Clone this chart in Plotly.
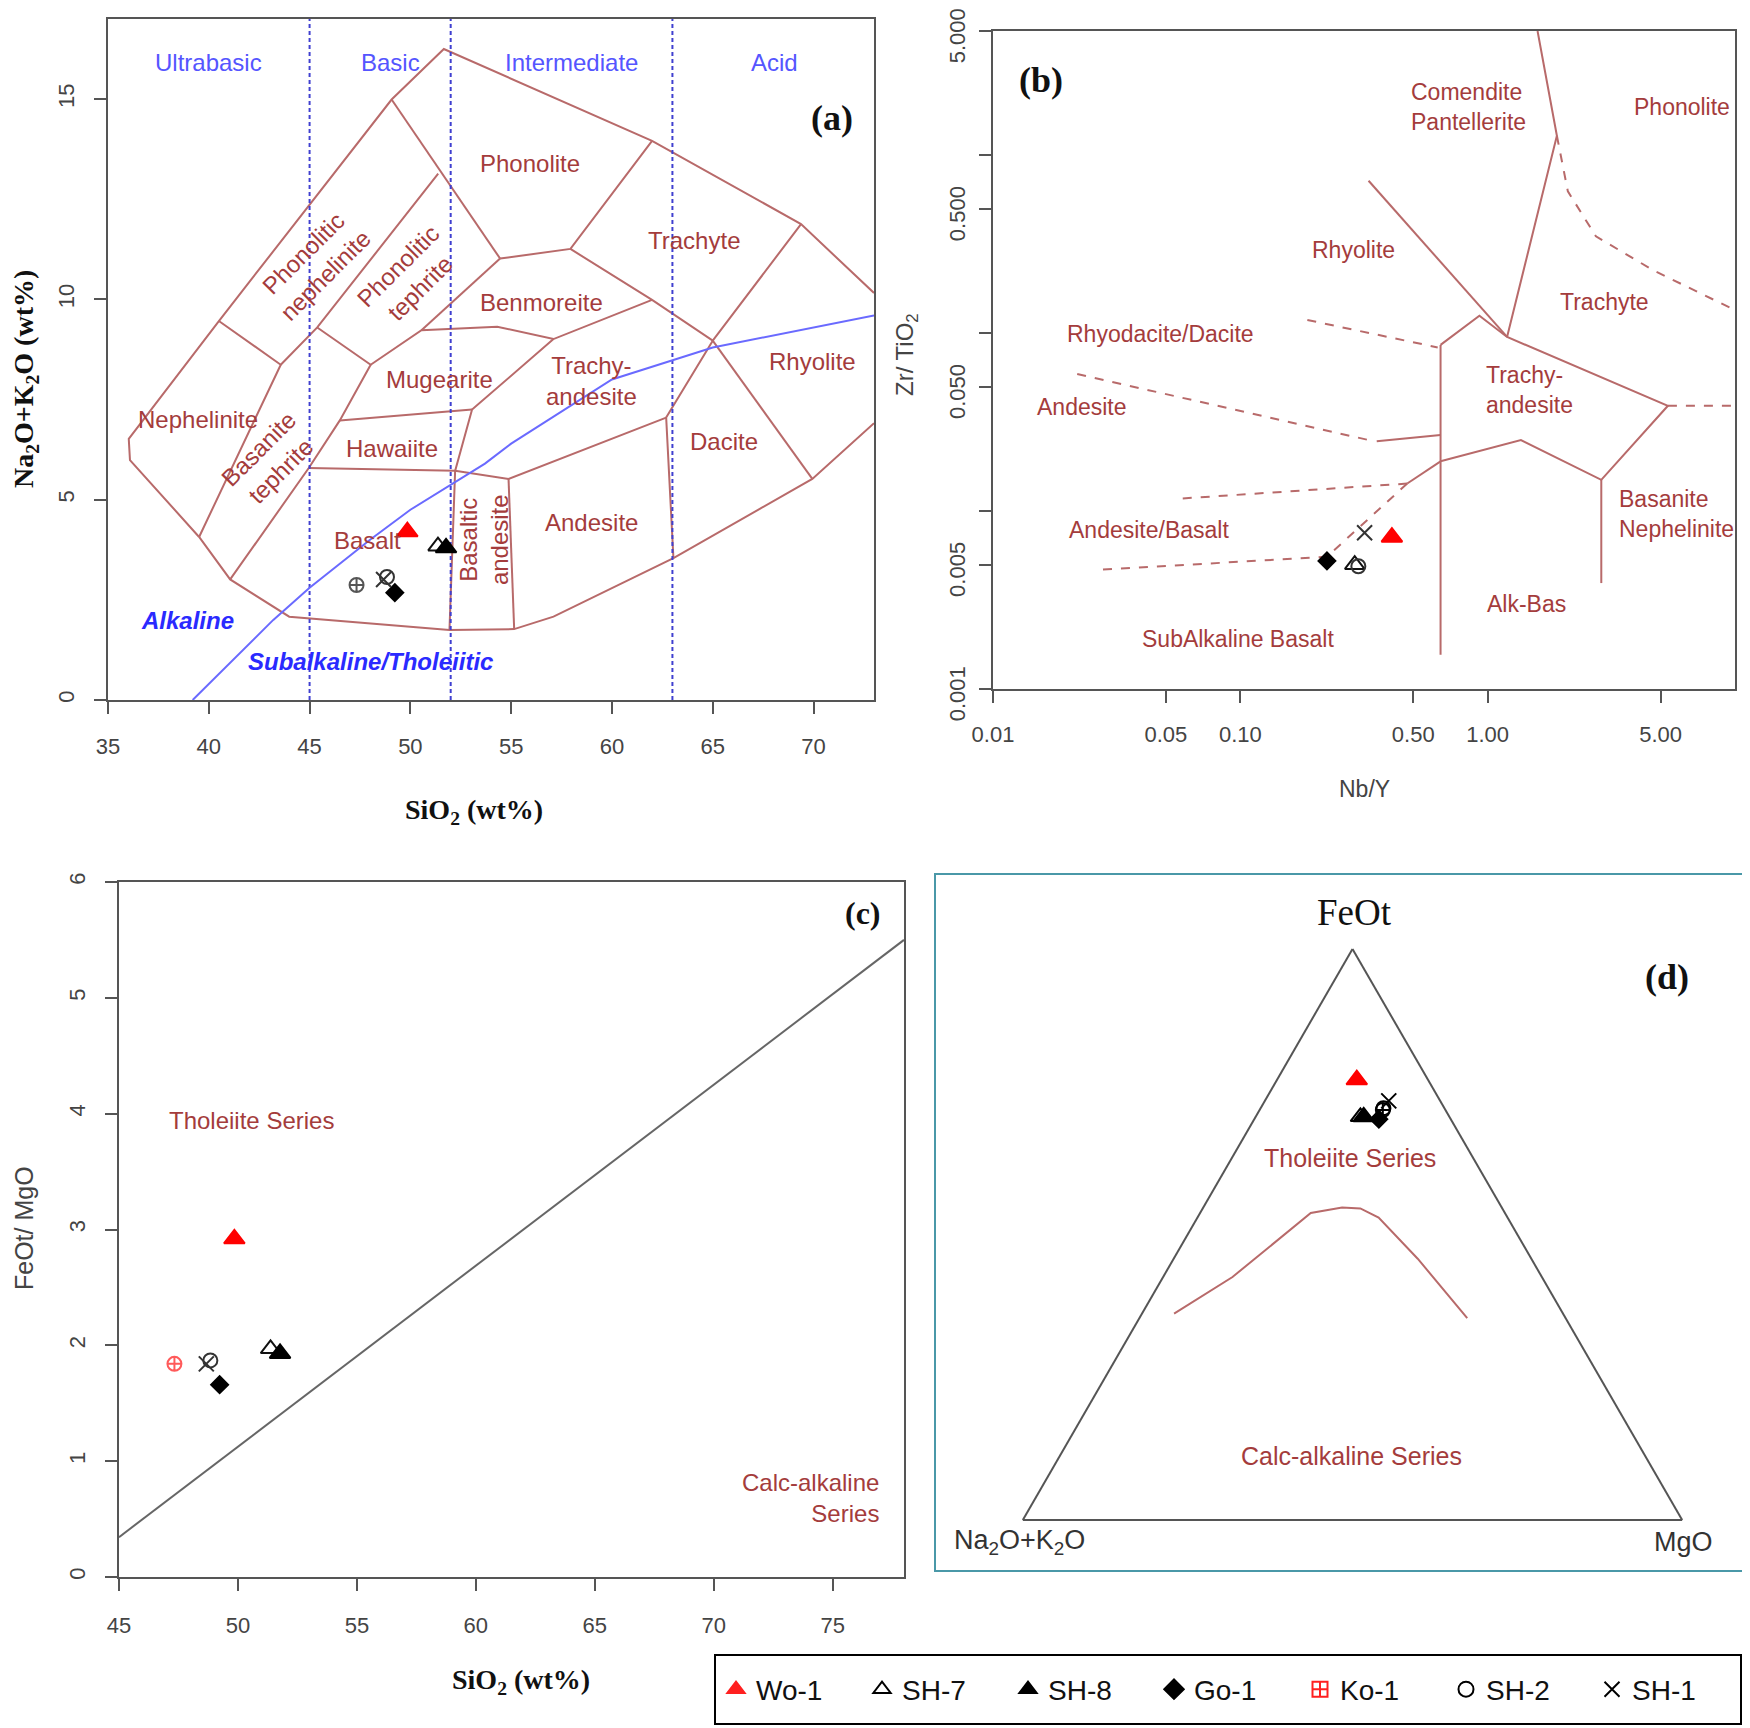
import numpy as np
import plotly.graph_objects as go

# page body has an 8px margin, so the figure is drawn 8px in from the top-left corner
OFF = 8
W, H = 1750 - OFF, 1728 - OFF

# ---------------- sample data ----------------
samples = ["Wo-1", "SH-7", "SH-8", "Go-1", "Ko-1", "SH-2", "SH-1"]
sio2 = [49.85, 51.37, 51.77, 49.23, 47.33, 48.84, 48.67]
alkali = [4.20, 3.84, 3.80, 2.68, 2.87, 3.07, 3.01]
feot_mgo = [2.92, 1.97, 1.93, 1.66, 1.84, 1.87, 1.84]
nb_y = [0.41, 0.29, None, 0.224, None, 0.30, 0.318]
zr_tio2 = [0.00714, 0.0050, None, 0.00525, None, 0.0049, 0.00755]
tern_feot = [0.771, 0.706, 0.706, 0.702, 0.718, 0.722, 0.734]
tern_alk = [0.108, 0.135, 0.130, 0.109, 0.095, 0.0925, 0.078]
tern_mgo = [0.121, 0.159, 0.164, 0.189, 0.187, 0.1865, 0.188]

# ---------------- (a) TAS boundaries ----------------
tas_lines = [
    ([39.52, 36.09, 36.03, 40.50, 49.07, 51.66, 61.99, 69.38, 73.0],
     [4.07, 5.99, 6.52, 9.46, 14.99, 16.25, 13.96, 11.88, 10.16]),
    ([73.0, 69.94, 63.05, 57.10, 55.15, 51.94, 43.99, 41.06, 39.52],
     [6.91, 5.52, 3.54, 2.08, 1.77, 1.75, 2.08, 3.01, 4.07]),
    ([40.50, 43.57, 39.52], [9.46, 8.37, 4.07]),
    ([43.57, 45.38, 51.38], [8.37, 9.30, 13.14]),
    ([49.07, 54.45], [14.99, 11.02]),
    ([45.38, 48.03, 46.50, 44.96, 41.06], [9.30, 8.37, 6.98, 5.79, 3.01]),
    ([48.03, 50.55, 54.31, 57.10, 61.99], [8.37, 9.23, 9.32, 9.01, 9.99]),
    ([54.45, 50.55], [11.02, 9.23]),
    ([54.45, 57.94, 61.99], [11.02, 11.26, 13.96]),
    ([57.94, 61.99, 65.0, 69.38], [11.26, 9.99, 8.97, 11.88]),
    ([65.0, 69.94], [8.97, 5.52]),
    ([65.0, 62.69, 63.05], [8.97, 7.05, 3.54]),
    ([57.10, 53.06, 52.22, 51.94], [9.01, 7.25, 5.72, 1.75]),
    ([46.50, 53.06], [6.98, 7.25]),
    ([44.96, 52.22, 54.87, 62.69], [5.79, 5.72, 5.52, 7.05]),
    ([54.87, 55.15], [5.52, 1.77]),
]
alk_line_x = [39.2, 40, 43.2, 45, 48, 50, 53.7, 55, 60, 65, 73]
alk_line_y = [0, 0.4, 2, 2.8, 4, 4.75, 5.9, 6.4, 8.0, 8.8, 9.6]
silica_div = [45, 52, 63]

tas_labels = ["Phonolite", "Trachyte", "Phonolitic<br>nephelinite", "Phonolitic<br>tephrite",
              "Benmoreite", "Mugearite", "Trachy-<br>andesite", "Rhyolite", "Nephelinite",
              "Basanite<br>tephrite", "Hawaiite", "Dacite", "Andesite", "Basalt",
              "Basaltic<br>andesite"]
tas_lab_x = [55.93, 64.08, 45.24, 49.93, 56.49, 51.44, 58.97, 69.94, 39.44, 43.01,
             49.07, 65.56, 58.97, 47.89, 53.62]
tas_lab_y = [13.40, 11.48, 10.89, 10.56, 9.93, 8.0, 7.97, 8.46, 7.0, 5.99, 6.28,
             6.45, 4.44, 3.97, 4.0]
tas_lab_angle = [0, 0, -45, -45, 0, 0, 0, 0, 0, -45, 0, 0, 0, 0, -90]
class_labels = ["Ultrabasic", "Basic", "Intermediate", "Acid"]
class_x = [40.0, 49.0, 58.0, 68.07]
class_y = 15.92

# ---------------- (b) Winchester & Floyd boundaries ----------------
wf_solid = [
    ([0.645, 0.645], [0.0860, 0.00156]),
    ([0.645, 0.926, 1.198, 5.355, 2.88, 1.363, 0.645],
     [0.0860, 0.1254, 0.0953, 0.0391, 0.01498, 0.02506, 0.01905]),
    ([0.330, 1.198], [0.720, 0.0953]),
    ([1.198, 1.905, 1.591], [0.0953, 1.288, 5.0]),
    ([2.88, 2.88], [0.01498, 0.00394]),
    ([0.356, 0.645], [0.0247, 0.0268]),
    ([0.645, 0.473], [0.01905, 0.01429]),
]
wf_dashed = [
    ([1.905, 2.11, 2.74, 4.71, 10.0], [1.288, 0.627, 0.3504, 0.2244, 0.135]),
    ([5.355, 10.0], [0.0391, 0.0391]),
    ([0.0219, 0.330], [0.0590, 0.0251]),
    ([0.1866, 0.628], [0.1187, 0.0832]),
    ([0.0585, 0.473], [0.01178, 0.01429]),
    ([0.473, 0.224, 0.0269], [0.01429, 0.00554, 0.00468]),
]
wf_labels = ["Comendite<br>Pantellerite", "Phonolite", "Rhyolite", "Trachyte",
             "Rhyodacite/Dacite", "Trachy-<br>andesite", "Andesite",
             "Basanite<br>Nephelinite", "Andesite/Basalt", "Alk-Bas", "SubAlkaline Basalt"]
wf_lab_x = [0.835, 6.1, 0.286, 2.96, 0.0475, 1.47, 0.0229, 5.78, 0.0428, 1.44, 0.098]
wf_lab_y = [1.88, 1.88, 0.295, 0.149, 0.0986, 0.0481, 0.0383, 0.0096, 0.00782, 0.00299, 0.00192]
b_xticks = [0.01, 0.05, 0.1, 0.5, 1, 5]
b_xticktext = ["0.01", "0.05", "0.10", "0.50", "1.00", "5.00"]
b_yticks = [5, 0.5, 0.05, 0.005, 0.001]
b_yticktext = ["5.000", "0.500", "0.050", "0.005", "0.001"]
b_yminor = [1, 0.1, 0.01]

# ---------------- (c) Miyashiro line ----------------
miya_x = [45, 78]
miya_y = [0.344, 5.5]

# ---------------- (d) AFM boundary ----------------
afm_feot = [0.3616, 0.4256, 0.5376, 0.5472, 0.5456, 0.5296, 0.4576, 0.3536]
afm_alk = [0.5898, 0.4692, 0.2945, 0.2422, 0.2153, 0.1956, 0.1723, 0.1492]
afm_mgo = [0.0486, 0.1052, 0.1679, 0.2106, 0.2391, 0.2748, 0.3701, 0.4972]
afm_lab = ["Tholeiite Series", "Calc-alkaline Series"]
afm_lab_feot = [0.629, 0.107]
afm_lab_alk = [0.189, 0.448]
afm_lab_mgo = [0.182, 0.445]

# ---------------- styles ----------------
SYM = {"Wo-1": "triangle-up", "SH-7": "triangle-up-open", "SH-8": "triangle-up",
       "Go-1": "diamond", "Ko-1": "circle-cross-open", "SH-2": "circle-open",
       "SH-1": "x-thin-open"}
LEG_SYM = dict(SYM, **{"Ko-1": "square-cross-open"})
COL = {"Wo-1": "#ff0000", "SH-7": "#111111", "SH-8": "#000000", "Go-1": "#000000",
       "Ko-1": "#ff5a5a", "SH-2": "#333333", "SH-1": "#333333"}
SIZE = {"Wo-1": 18, "SH-7": 17, "SH-8": 18, "Go-1": 13, "Ko-1": 14, "SH-2": 14, "SH-1": 15}
BROWN_LINE = "#b86a6a"
BROWN_TXT = "#a43c3c"
SANS = "Liberation Sans, Arial, sans-serif"
SERIF = "Liberation Serif, Times New Roman, serif"
LAB = 24

fig = go.Figure()


def join(lines):
    xs, ys = [], []
    for lx, ly in lines:
        xs += list(lx) + [None]
        ys += list(ly) + [None]
    return xs, ys


def mk(name, panel_col=None):
    return dict(symbol=SYM[name], color=panel_col or COL[name], size=SIZE[name],
                line=dict(width=2, color=panel_col or COL[name]))


# (a)
tx, ty = join(tas_lines)
fig.add_trace(go.Scatter(x=tx, y=ty, mode="lines", line=dict(color=BROWN_LINE, width=2),
                         xaxis="x", yaxis="y", showlegend=False, hoverinfo="skip"))
for sx in silica_div:
    fig.add_trace(go.Scatter(x=[sx, sx], y=[0, 17], mode="lines",
                             line=dict(color="#4040d0", width=2, dash="4px,3px"),
                             xaxis="x", yaxis="y", showlegend=False, hoverinfo="skip"))
fig.add_trace(go.Scatter(x=alk_line_x, y=alk_line_y, mode="lines",
                         line=dict(color="#6a6aff", width=2), xaxis="x", yaxis="y",
                         showlegend=False, hoverinfo="skip"))
for i, s in enumerate(samples):
    fig.add_trace(go.Scatter(x=[sio2[i]], y=[alkali[i]], mode="markers",
                             marker=mk(s, "#555555" if s == "Ko-1" else None),
                             xaxis="x", yaxis="y", showlegend=False))

# (b)
sx_, sy_ = join(wf_solid)
fig.add_trace(go.Scatter(x=sx_, y=sy_, mode="lines", line=dict(color=BROWN_LINE, width=2),
                         xaxis="x2", yaxis="y2", showlegend=False, hoverinfo="skip"))
dx_, dy_ = join(wf_dashed)
fig.add_trace(go.Scatter(x=dx_, y=dy_, mode="lines",
                         line=dict(color=BROWN_LINE, width=2, dash="dash"),
                         xaxis="x2", yaxis="y2", showlegend=False, hoverinfo="skip"))
for i, s in enumerate(samples):
    if nb_y[i] is None:
        continue
    fig.add_trace(go.Scatter(x=[nb_y[i]], y=[zr_tio2[i]], mode="markers", marker=mk(s),
                             xaxis="x2", yaxis="y2", showlegend=False))

# (c)
fig.add_trace(go.Scatter(x=miya_x, y=miya_y, mode="lines", line=dict(color="#666666", width=2),
                         xaxis="x3", yaxis="y3", showlegend=False, hoverinfo="skip"))
for i, s in enumerate(samples):
    fig.add_trace(go.Scatter(x=[sio2[i]], y=[feot_mgo[i]], mode="markers", marker=mk(s),
                             xaxis="x3", yaxis="y3", showlegend=False))

# (d)
fig.add_trace(go.Scatterternary(a=afm_feot, b=afm_alk, c=afm_mgo, mode="lines",
                                line=dict(color=BROWN_LINE, width=2), subplot="ternary",
                                showlegend=False, hoverinfo="skip"))
fig.add_trace(go.Scatterternary(a=afm_lab_feot, b=afm_lab_alk, c=afm_lab_mgo, mode="text",
                                text=afm_lab, textfont=dict(family=SANS, size=25, color=BROWN_TXT),
                                subplot="ternary", showlegend=False, hoverinfo="skip"))
for i, s in enumerate(samples):
    fig.add_trace(go.Scatterternary(a=[tern_feot[i]], b=[tern_alk[i]], c=[tern_mgo[i]],
                                    mode="markers", marker=mk(s, "#000000" if s != "Wo-1" else None),
                                    subplot="ternary", showlegend=False))

# legend entries
for s in samples:
    c = "#ff2020" if s in ("Wo-1", "Ko-1") else "#000000"
    fig.add_trace(go.Scatter(x=[None], y=[None], mode="markers", name=s,
                             marker=dict(symbol=LEG_SYM[s], color=c, size=15,
                                         line=dict(width=2, color=c if s != "SH-2" else "#222")),
                             xaxis="x3", yaxis="y3"))

# ---------------- annotations ----------------
ann = []
for t, x, y, a in zip(tas_labels, tas_lab_x, tas_lab_y, tas_lab_angle):
    ann.append(dict(text=t, x=x, y=y, xref="x", yref="y", showarrow=False, textangle=a,
                    font=dict(family=SANS, size=LAB, color=BROWN_TXT)))
for t, x in zip(class_labels, class_x):
    ann.append(dict(text=t, x=x, y=class_y, xref="x", yref="y", showarrow=False,
                    font=dict(family=SANS, size=LAB, color="#5555ff")))
ann.append(dict(text="<b><i>Alkaline</i></b>", x=38.96, y=1.99, xref="x", yref="y",
                showarrow=False, font=dict(family=SANS, size=LAB, color="#2a2aff")))
ann.append(dict(text="<b><i>Subalkaline/Tholeiitic</i></b>", x=48.03, y=0.95, xref="x", yref="y",
                showarrow=False, font=dict(family=SANS, size=LAB, color="#2a2aff")))
ann.append(dict(text="<b>(a)</b>", x=70.92, y=14.53, xref="x", yref="y", showarrow=False,
                font=dict(family=SERIF, size=36, color="#111")))

for t, x, y in zip(wf_labels, wf_lab_x, wf_lab_y):
    ann.append(dict(text=t, x=np.log10(x), y=np.log10(y), xref="x2", yref="y2", showarrow=False,
                    align="left", font=dict(family=SANS, size=23, color=BROWN_TXT)))
ann.append(dict(text="<b>(b)</b>", x=np.log10(0.0157), y=np.log10(2.65), xref="x2", yref="y2",
                showarrow=False, font=dict(family=SERIF, size=36, color="#111")))

ann.append(dict(text="Tholeiite Series", x=50.57, y=3.94, xref="x3", yref="y3", showarrow=False,
                font=dict(family=SANS, size=LAB, color=BROWN_TXT)))
ann.append(dict(text="Calc-alkaline<br>Series", x=77.05, y=0.68, xref="x3", yref="y3",
                showarrow=False, xanchor="right", align="right",
                font=dict(family=SANS, size=LAB, color=BROWN_TXT)))
ann.append(dict(text="<b>(c)</b>", x=76.26, y=5.73, xref="x3", yref="y3", showarrow=False,
                font=dict(family=SERIF, size=32, color="#111")))


def P(px, py):
    return (px - OFF) / W, 1 - (py - OFF) / H


def pann(text, px, py, font, angle=0):
    x, y = P(px, py)
    ann.append(dict(text=text, x=x, y=y, xref="paper", yref="paper", showarrow=False,
                    xanchor="center", yanchor="middle", textangle=angle, font=font))


title_serif = dict(family=SERIF, size=28, color="#111")
title_sans = dict(family=SANS, size=24, color="#444")
pann("<b>SiO<sub>2</sub> (wt%)</b>", 474, 811, title_serif)
pann("<b>Na<sub>2</sub>O+K<sub>2</sub>O (wt%)</b>", 25, 379, title_serif, -90)
pann("Nb/Y", 1364, 789, dict(family=SANS, size=23, color="#444"))
pann("Zr/ TiO<sub>2</sub>", 906, 355, title_sans, -90)
pann("<b>SiO<sub>2</sub> (wt%)</b>", 521, 1681, title_serif)
pann("FeOt/ MgO", 24, 1228, dict(family=SANS, size=25, color="#444"), -90)
pann("FeOt", 1354, 912, dict(family=SERIF, size=37, color="#111"))
pann("Na<sub>2</sub>O+K<sub>2</sub>O", 1019, 1542, dict(family=SANS, size=27, color="#333"))
pann("MgO", 1683, 1542, dict(family=SANS, size=27, color="#333"))
pann("<b>(d)</b>", 1667, 977, dict(family=SERIF, size=36, color="#111"))

# ---------------- shapes ----------------
shapes = []
x0, y1 = P(935, 874)
x1, y0 = P(1747, 1571)
shapes.append(dict(type="rect", xref="paper", yref="paper", x0=x0, x1=x1, y0=y0, y1=y1,
                   line=dict(color="#4a98a8", width=2)))
x0, y1 = P(715, 1655)
x1, y0 = P(1741, 1724)
shapes.append(dict(type="rect", xref="paper", yref="paper", x0=x0, x1=x1, y0=y0, y1=y1,
                   line=dict(color="#000", width=2)))

# ---------------- axes ----------------
tickfont = dict(family=SANS, size=22, color="#444")
base = dict(showline=True, mirror=True, linecolor="#555", linewidth=2, ticks="outside",
            ticklen=12, tickwidth=2, tickcolor="#555", showgrid=False, zeroline=False,
            tickfont=tickfont, automargin=False, ticklabeloverflow="allow")


def xdom(a, b):
    return [(a - OFF) / W, (b - OFF) / W]


def ydom(top, bottom):
    return [1 - (bottom - OFF) / H, 1 - (top - OFF) / H]


fig.update_layout(
    width=W, height=H, margin=dict(l=0, r=0, t=0, b=0, autoexpand=False),
    paper_bgcolor="white", plot_bgcolor="white",
    xaxis=dict(base, domain=xdom(108, 874), range=[35, 73], anchor="y",
               tickvals=[35, 40, 45, 50, 55, 60, 65, 70], ticklabelstandoff=14),
    yaxis=dict(base, domain=ydom(19, 700), range=[0, 17], anchor="x",
               tickvals=[0, 5, 10, 15], tickangle=-90, ticklabelstandoff=11),
    xaxis2=dict(base, domain=xdom(993, 1735), type="log", range=[-2, 1], anchor="y2",
                tickvals=b_xticks, ticktext=b_xticktext, ticklabelstandoff=13),
    yaxis2=dict(base, domain=ydom(31, 689), type="log",
                range=[-3, np.log10(5)], anchor="x2",
                tickvals=b_yticks, ticktext=b_yticktext,
                minor=dict(tickvals=b_yminor, ticks="outside", ticklen=12, tickwidth=2,
                           tickcolor="#555", showgrid=False),
                tickangle=-90, ticklabelstandoff=5, ticklabelshift=8),
    xaxis3=dict(base, domain=xdom(119, 904), range=[45, 78], anchor="y3",
                tickvals=[45, 50, 55, 60, 65, 70, 75], ticklabelstandoff=16),
    yaxis3=dict(base, domain=ydom(882, 1577), range=[0, 6], anchor="x3",
                tickvals=[0, 1, 2, 3, 4, 5, 6], tickangle=-90, ticklabelstandoff=11),
    ternary=dict(domain=dict(x=xdom(1022, 1683), y=ydom(949, 1520)),
                 sum=1, bgcolor="white",
                 aaxis=dict(showgrid=False, showticklabels=False, ticks="", showline=True,
                            linecolor="#555", linewidth=2, title=dict(text="")),
                 baxis=dict(showgrid=False, showticklabels=False, ticks="", showline=True,
                            linecolor="#555", linewidth=2, title=dict(text="")),
                 caxis=dict(showgrid=False, showticklabels=False, ticks="", showline=True,
                            linecolor="#555", linewidth=2, title=dict(text=""))),
    legend=dict(orientation="h", x=(716 - OFF) / W, xanchor="left", y=1 - (1689.5 - OFF) / H,
                yanchor="middle", bgcolor="rgba(0,0,0,0)", borderwidth=0,
                font=dict(family=SANS, size=28, color="#111"),
                entrywidth=101, entrywidthmode="pixels", itemwidth=30, itemsizing="trace"),
    annotations=ann, shapes=shapes,
)

fig.write_html("out.html")
